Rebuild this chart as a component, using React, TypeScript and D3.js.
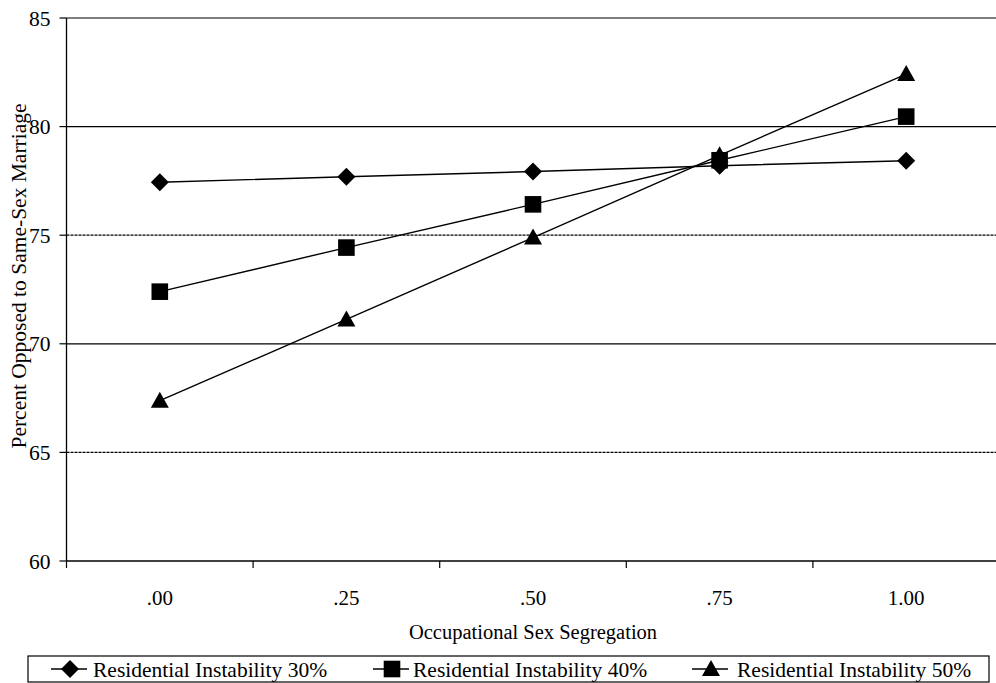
import React from "react";
import * as d3 from "d3";

const categories = [".00", ".25", ".50", ".75", "1.00"];
const series30 = [77.44, 77.69, 77.93, 78.2, 78.43];
const series40 = [72.4, 74.43, 76.42, 78.45, 80.46];
const series50 = [67.38, 71.12, 74.89, 78.68, 82.42];
const seriesNames = [
  "Residential Instability 30%",
  "Residential Instability 40%",
  "Residential Instability 50%",
];
const yTicks = [60, 65, 70, 75, 80, 85];

const W = 996;
const H = 683;
const left = 66.5;
const right = 999.5;
const top = 18;
const bottom = 561;
const FONT = "'Liberation Serif', 'Times New Roman', serif";

function Marker({ kind, x, y }: { kind: number; x: number; y: number }) {
  if (kind === 0) {
    const s = 9;
    return (
      <path
        d={`M${x},${y - s}L${x + s},${y}L${x},${y + s}L${x - s},${y}Z`}
        fill="#000"
      />
    );
  }
  if (kind === 1) {
    const s = 8.3;
    return <rect x={x - s} y={y - s} width={2 * s} height={2 * s} fill="#000" />;
  }
  const s = 9;
  return (
    <path
      d={`M${x},${y - s}L${x + s},${y + 7}L${x - s},${y + 7}Z`}
      fill="#000"
    />
  );
}

export default function App() {
  const x = d3.scaleBand<string>().domain(categories).range([left, right]);
  const y = d3.scaleLinear().domain([60, 85]).range([bottom, top]);
  const allSeries = [series30, series40, series50];
  const line = d3
    .line<number>()
    .x((_, i) => (x(categories[i]) as number) + x.bandwidth() / 2)
    .y((d) => y(d));

  const boundaries = d3.range(categories.length + 1).map((i) => left + i * x.step());

  const legendItems = [
    { lx: 51, tx: 93 },
    { lx: 373, tx: 413 },
    { lx: 692, tx: 737 },
  ];

  return (
    <svg
      width={W}
      height={H}
      style={{ position: "fixed", left: 0, top: 0, background: "#fff" }}
    >
      <rect x={0} y={0} width={W} height={H} fill="#fff" />
      {/* gridlines */}
      {yTicks.slice(1).map((t) => (
        <line
          key={t}
          x1={left}
          x2={right}
          y1={y(t)}
          y2={y(t)}
          stroke="#000"
          strokeWidth={1.2}
          strokeDasharray={t === 75 || t === 65 ? "3,1" : undefined}
        />
      ))}
      {/* axes */}
      <line x1={left} x2={left} y1={top} y2={bottom} stroke="#000" strokeWidth={1.3} />
      <line x1={left} x2={right} y1={bottom} y2={bottom} stroke="#000" strokeWidth={1.3} />
      {yTicks.map((t) => (
        <g key={t}>
          <line x1={left - 7} x2={left} y1={y(t)} y2={y(t)} stroke="#000" strokeWidth={1.2} />
          <text
            x={left - 16}
            y={y(t)}
            dy="0.35em"
            textAnchor="end"
            fontFamily={FONT}
            fontSize={21.5}
          >
            {t}
          </text>
        </g>
      ))}
      {boundaries.map((b, i) => (
        <line key={i} x1={b} x2={b} y1={bottom} y2={bottom + 7} stroke="#000" strokeWidth={1.2} />
      ))}
      {categories.map((c) => (
        <text
          key={c}
          x={(x(c) as number) + x.bandwidth() / 2}
          y={605}
          textAnchor="middle"
          fontFamily={FONT}
          fontSize={21}
        >
          {c}
        </text>
      ))}
      <text x={533} y={639} textAnchor="middle" fontFamily={FONT} fontSize={20.5}>
        Occupational Sex Segregation
      </text>
      <text
        transform={`translate(26,276) rotate(-90)`}
        textAnchor="middle"
        fontFamily={FONT}
        fontSize={21.5}
      >
        Percent Opposed to Same-Sex Marriage
      </text>
      {/* series */}
      {allSeries.map((s, k) => (
        <g key={k}>
          <path d={line(s) || ""} fill="none" stroke="#000" strokeWidth={1.4} />
          {s.map((v, i) => (
            <Marker
              key={i}
              kind={k}
              x={(x(categories[i]) as number) + x.bandwidth() / 2}
              y={y(v)}
            />
          ))}
        </g>
      ))}
      {/* legend */}
      <rect x={28} y={656} width={961} height={26} fill="#fff" stroke="#000" strokeWidth={1.2} />
      {legendItems.map((it, k) => (
        <g key={k}>
          <line x1={it.lx} x2={it.lx + 36} y1={669} y2={669} stroke="#000" strokeWidth={1.4} />
          <Marker kind={k} x={it.lx + 19} y={669} />
          <text x={it.tx} y={677} fontFamily={FONT} fontSize={21.5}>
            {seriesNames[k]}
          </text>
        </g>
      ))}
    </svg>
  );
}
